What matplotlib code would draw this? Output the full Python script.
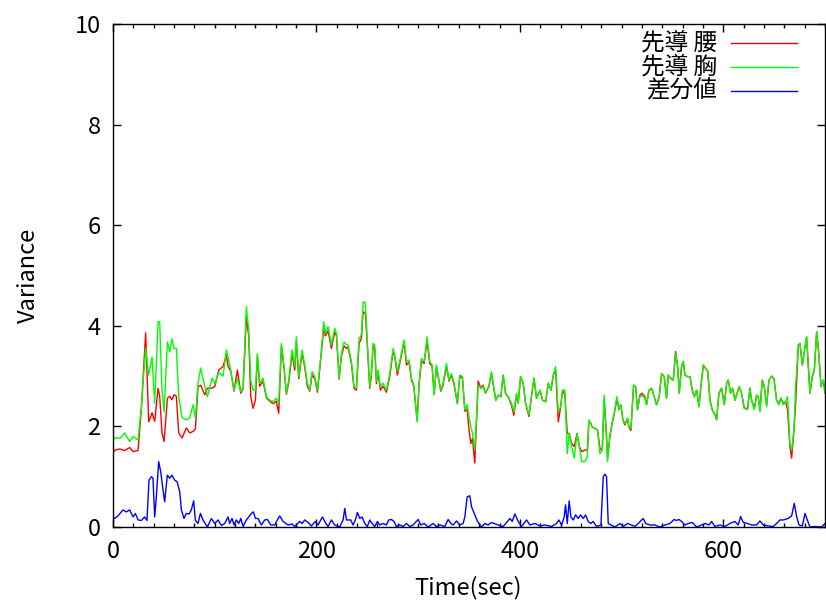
import numpy as np
from matplotlib import pyplot as plt

plt.rcParams['font.family'] = ['Noto Sans CJK JP', 'DejaVu Sans']

# time axis (sec) shared by the two lead-variance series
t_lead = [0, 2, 6.6, 11.5, 16.4, 19.7, 24.6, 27.9, 32.1, 35.1, 38.4, 41, 44.3, 45.9, 48.2,
		  50.2, 53.5, 55.8, 58, 60, 62.3, 64.6, 67.9, 72.1, 75.4, 78.7, 81, 83.6, 86.2, 90.2,
		  92.8, 97.4, 100, 104, 108.2, 111.5, 113.1, 115.7, 119, 122.3, 125.6, 127.9, 131.1,
		  133.4, 135.4, 137.7, 140, 142, 144.2, 147.5, 150.8, 154.1, 157.4, 160.6, 162.9,
		  165.6, 168.2, 170.5, 172.8, 176, 178.7, 180.3, 182.6, 185.9, 188.5, 191.1, 193.4,
		  195.7, 198.4, 201, 204.3, 207.2, 208.8, 211.5, 214.7, 218, 219.7, 222.3, 224.6,
		  227.2, 229.8, 231.1, 234.4, 237, 239.3, 241.9, 244.2, 245.9, 248.1, 250.1, 252.4,
		  254, 255.7, 257.3, 259, 260.6, 262.9, 265.5, 268.8, 272.1, 275.4, 277, 279.6, 282.9,
		  286.2, 288.5, 291.1, 293.4, 295.7, 299, 300.9, 303.2, 305.9, 308.8, 311.4, 313.7,
		  315.7, 318, 319.6, 322.3, 324.5, 327.8, 330.4, 332.7, 335.4, 338.6, 340.9, 343.6,
		  345.9, 348.2, 349.9, 351.8, 353.4, 355.7, 359, 361.6, 363.9, 366.2, 369.5, 372.1,
		  374.8, 376.4, 378.7, 381.3, 383.6, 385.9, 388.5, 391.8, 394.1, 396.7, 398.4, 400.7,
		  403.3, 405.6, 408.9, 411.6, 413.9, 416.4, 419.8, 422.3, 425.4, 428, 430.6, 432.9,
		  435.1, 437.8, 440.1, 442, 444.3, 446.6, 448.6, 450.9, 453.5, 456.2, 458.5, 460.8,
		  464, 466.4, 467.8, 469.8, 471.1, 473.8, 476.4, 478.7, 481, 482.9, 485.2, 486.2,
		  488.5, 490.8, 492.8, 495.4, 497.4, 499.3, 501.3, 503.3, 505.9, 507.2, 509.2, 511.8,
		  513.8, 515.7, 518, 520.3, 522.9, 524.6, 526.9, 529.5, 532.1, 534.4, 537, 539.3,
		  541.9, 544.2, 545.9, 548.5, 550.8, 553.1, 555.1, 556.7, 559, 560.7, 562.3, 564.9,
		  567.2, 569.5, 571.5, 573.8, 576.1, 578.1, 580.4, 582.7, 584.7, 586.9, 589.2, 591.8,
		  593.4, 595.7, 598.3, 601, 603.3, 604.9, 607.2, 609.1, 611.5, 613.7, 615.7, 618,
		  620.6, 623.9, 626.2, 627.8, 630.5, 632.8, 634.4, 636.1, 638.3, 640.3, 642.6, 644.9,
		  647.5, 649.8, 652.4, 654.7, 656.7, 659, 661.3, 663.2, 665.5, 667.2, 669.5, 671.1,
		  673.8, 675.4, 677.7, 679.7, 681.9, 683.6, 685.2, 687.5, 689.5, 691.8, 694.1, 696.1,
		  698.4, 700]

# 先導 胸 (chest)
chest = [1.70, 1.78, 1.76, 1.87, 1.70, 1.80, 1.73, 2.40, 3.56, 3.02, 3.38, 2.46, 4.08, 4.08, 2.70,
		 2.29, 3.68, 3.48, 3.74, 3.55, 3.55, 2.60, 2.17, 2.13, 2.17, 2.43, 2.17, 2.86, 3.16, 2.79,
		 2.59, 2.96, 2.85, 3.07, 3.00, 3.52, 3.39, 3.12, 2.72, 2.95, 2.69, 2.79, 4.38,
		 3.92, 2.92, 2.72, 2.72, 3.45, 2.86, 2.96, 2.59, 2.52, 2.49, 2.56, 2.46,
		 3.65, 3.19, 2.66, 2.92, 3.52, 3.19, 3.78, 2.99, 3.52, 3.22, 2.86, 2.72,
		 3.09, 2.99, 2.72, 3.39, 4.08, 3.85, 3.98, 3.62, 3.95, 3.85, 2.96, 3.45,
		 3.68, 3.62, 3.62, 3.29, 2.79, 2.76, 3.75, 3.82, 4.48, 4.45, 3.65, 2.79,
		 3.05, 3.65, 3.62, 2.89, 3.12, 2.79, 2.86, 2.72, 3.05, 3.55, 3.42, 3.09, 3.39,
		 3.72, 3.29, 3.32, 2.96, 2.82, 2.09, 2.86, 3.35, 3.29, 3.78, 3.29, 3.22,
		 2.62, 3.22, 3.02, 2.72, 2.86, 3.25, 2.92, 3.05, 2.86, 2.46, 3.02, 2.99,
		 2.33, 2.43, 2.20, 1.99, 1.86, 1.53, 2.82, 2.76, 2.79, 2.66, 2.79, 3.09,
		 2.72, 2.52, 2.62, 2.59, 3.02, 2.66, 2.59, 2.46, 2.29, 2.66, 2.46, 2.99,
		 2.86, 2.46, 2.23, 2.62, 2.96, 2.56, 2.72, 2.52, 2.49, 2.86, 2.72, 3.02,
		 3.19, 2.30, 2.39, 2.72, 2.72, 1.46, 1.86, 1.60, 1.37, 1.86, 1.60, 1.30,
		 1.30, 1.40, 2.13, 2.06, 1.99, 1.96, 1.93, 1.46, 1.53, 2.62, 1.80, 1.30,
		 1.80, 2.09, 2.26, 2.59, 2.33, 2.43, 2.13, 2.06, 2.16, 1.99, 1.96, 2.82,
		 2.79, 2.33, 2.59, 2.62, 2.56, 2.43, 2.72, 2.76, 2.59, 2.43, 2.59, 3.05,
		 2.99, 2.56, 3.02, 2.95, 2.92, 3.45, 3.19, 2.66, 3.19, 3.29, 3.02, 2.99,
		 2.99, 2.72, 2.59, 2.72, 2.39, 2.82, 3.22, 3.15, 3.10, 2.52, 2.33, 2.23,
		 2.13, 2.66, 2.76, 2.43, 2.86, 2.92, 2.66, 2.76, 2.52, 2.66, 2.79, 2.66,
		 2.36, 2.33, 2.76, 2.52, 2.33, 2.62, 2.59, 2.29, 2.92, 2.79, 2.39, 2.92,
		 3.00, 2.95, 2.52, 2.43, 2.56, 2.43, 2.49, 2.59, 1.66, 1.53, 1.93, 2.79,
		 3.62, 3.65, 3.22, 3.49, 3.78, 3.19, 2.66, 2.99, 3.12, 3.88, 3.39, 2.79,
		 2.92, 2.66]

# 先導 腰 (waist)
waist = [1.47, 1.53, 1.55, 1.52, 1.58, 1.50, 1.52, 2.35, 3.86, 2.09, 2.27, 2.10, 2.76, 2.60, 1.87,
		 1.70, 2.56, 2.60, 2.53, 2.63, 2.60, 1.87, 1.77, 1.97, 1.87, 1.90, 1.95, 2.79, 2.82, 2.63,
		 2.76, 2.76, 2.79, 3.12, 3.19, 3.42, 3.19, 3.10, 2.70, 3.12, 2.66, 2.76, 4.18,
		 3.80, 2.60, 2.36, 2.52, 3.40, 2.80, 2.90, 2.57, 2.50, 2.45, 2.50, 2.26,
		 3.60, 3.15, 2.64, 2.88, 3.45, 3.12, 3.70, 2.95, 3.45, 3.18, 2.80, 2.70,
		 3.02, 2.95, 2.68, 3.35, 3.95, 3.80, 3.90, 3.55, 3.88, 3.80, 2.94, 3.40,
		 3.60, 3.55, 3.58, 3.25, 2.75, 2.72, 3.65, 3.75, 4.28, 4.25, 3.60, 2.76,
		 3.00, 3.60, 3.55, 2.85, 3.08, 2.72, 2.80, 2.68, 3.00, 3.50, 3.38, 3.02, 3.35,
		 3.68, 3.22, 3.28, 2.92, 2.80, 2.12, 2.82, 3.30, 3.25, 3.70, 3.25, 3.20,
		 2.65, 3.18, 3.00, 2.70, 2.82, 3.20, 2.90, 3.02, 2.82, 2.45, 3.00, 2.95,
		 2.30, 2.35, 1.95, 1.66, 1.76, 1.27, 2.90, 2.76, 2.82, 2.66, 2.79, 3.05,
		 2.70, 2.52, 2.62, 2.59, 3.02, 2.66, 2.59, 2.42, 2.22, 2.62, 2.46, 2.99,
		 2.86, 2.46, 2.20, 2.62, 2.96, 2.56, 2.72, 2.52, 2.49, 2.86, 2.72, 3.02,
		 3.12, 2.09, 2.39, 2.72, 2.62, 1.86, 1.86, 1.66, 1.60, 1.86, 1.60, 1.50,
		 1.53, 1.53, 2.09, 2.06, 1.99, 1.96, 1.93, 1.56, 1.53, 2.52, 1.80, 1.36,
		 1.80, 2.06, 2.26, 2.55, 2.33, 2.43, 2.13, 2.03, 2.16, 1.99, 1.92, 2.82,
		 2.79, 2.33, 2.62, 2.66, 2.59, 2.43, 2.72, 2.76, 2.59, 2.43, 2.59, 3.05,
		 2.99, 2.56, 3.02, 2.95, 2.92, 3.49, 3.19, 2.66, 3.19, 3.29, 3.02, 2.99,
		 2.99, 2.72, 2.59, 2.72, 2.39, 2.82, 3.22, 3.15, 3.10, 2.52, 2.33, 2.23,
		 2.13, 2.66, 2.76, 2.43, 2.86, 2.92, 2.66, 2.76, 2.52, 2.66, 2.79, 2.66,
		 2.36, 2.36, 2.76, 2.52, 2.36, 2.62, 2.59, 2.33, 2.92, 2.79, 2.42, 2.92,
		 3.00, 2.95, 2.52, 2.46, 2.56, 2.46, 2.49, 2.33, 1.60, 1.37, 1.93, 2.46,
		 3.62, 3.65, 3.22, 3.49, 3.78, 3.19, 2.66, 2.99, 3.12, 3.88, 3.39, 2.79,
		 2.92, 2.66]

# 差分値 (difference)
t_diff = [0, 1.6, 4.9, 9.8, 13.1, 16.4, 19.7, 22, 24.6, 27.9, 31.1, 33.4, 35.4, 37.7, 39.3, 41,
		  42.6, 44.9, 46.9, 49.2, 50.8, 53.4, 55.7, 58, 60.7, 63, 65.6, 67.2, 69.8, 72.1, 74.8,
		  77, 79.3, 81, 83.6, 85.9, 88.5, 92.8, 96.7, 100, 103.3, 106.6, 109.8, 113.1, 114.7,
		  117, 119, 121.3, 123.6, 125.6, 127.9, 131.1, 133.4, 136.1, 138, 140, 142.6, 145.9,
		  149.2, 151.8, 155.1, 159, 162.3, 163.9, 167.2, 172.1, 176, 178.7, 183.6, 185.9,
		  188.5, 191.8, 195, 199, 201.6, 205.9, 209.2, 211.5, 214.7, 218, 222.9, 226.2, 227.9,
		  229.5, 233.7, 236, 238.3, 240.3, 242.6, 244.9, 247.5, 250.1, 252.4, 254.7, 257.3,
		  260, 262.2, 265.5, 268.8, 271.1, 273.7, 276.3, 278.6, 281.9, 285.2, 288.5, 291.8,
		  295, 300, 302.6, 305.9, 309.8, 314.7, 318, 321.3, 326.2, 329.5, 332.1, 334.4, 337.7,
		  341, 344.2, 345.9, 348.2, 350.8, 352.5, 355.8, 358.4, 362.3, 365.6, 368.9, 372.1,
		  378.7, 383.6, 390.2, 392.5, 395.1, 398.4, 401.7, 406.6, 409.9, 414.8, 419.7, 424.6,
		  431.2, 436.1, 438.4, 441, 443.6, 444.9, 446.6, 448.5, 450.2, 452.5, 454.8, 457.4,
		  459.7, 462.3, 464.6, 467.2, 469.8, 472.1, 475.4, 479.7, 482, 483.6, 485.2, 486.9,
		  489.5, 493.4, 498.4, 501.6, 505.9, 509.8, 513.1, 516.4, 519.7, 521.3, 523.6, 527.9,
		  532.8, 537.7, 542.6, 547.5, 551.8, 554.1, 556.4, 559, 562.3, 565.6, 569.5, 573.8,
		  578.7, 582, 585.9, 588.5, 591.8, 596.7, 601.6, 606.5, 611.4, 614.7, 617, 619.6,
		  623.9, 627.8, 632.7, 636, 639.3, 644.2, 649.1, 652.4, 655.7, 659, 663.9, 667.2,
		  669.8, 672.1, 674.4, 677.7, 680.3, 682.6, 685.2, 690.1, 696.7, 700]
diff = [0.20, 0.17, 0.22, 0.34, 0.30, 0.34, 0.20, 0.27, 0.14, 0.13, 0.20, 0.13, 0.93, 1.00, 0.97, 0.20,
		0.60, 1.30, 1.10, 0.73, 0.50, 1.03, 0.97, 1.03, 0.93, 0.90, 0.70, 0.34, 0.17, 0.27, 0.26,
		0.34, 0.52, 0.13, 0.07, 0.27, 0.14, 0.00, 0.17, 0.07, 0.14, 0.03, 0.07, 0.20, 0.07,
		0.17, 0.04, 0.14, 0.07, 0.17, 0.01, 0.14, 0.20, 0.27, 0.30, 0.17, 0.17, 0.04,
		0.14, 0.15, 0.04, 0.04, 0.17, 0.22, 0.11, 0.04, 0.06, 0.01, 0.11, 0.07,
		0.14, 0.09, 0.02, 0.11, 0.04, 0.20, 0.07, 0.01, 0.14, 0.04, 0.00, 0.14, 0.37,
		0.14, 0.14, 0.04, 0.14, 0.29, 0.17, 0.20, 0.07, 0.01, 0.14, 0.07, 0.01,
		0.11, 0.04, 0.07, 0.04, 0.14, 0.15, 0.11, 0.01, 0.04, 0.01, 0.07, 0.01,
		0.04, 0.15, 0.04, 0.07, 0.00, 0.07, 0.01, 0.04, 0.01, 0.15, 0.07, 0.04, 0.12,
		0.04, 0.07, 0.20, 0.60, 0.62, 0.40, 0.24, 0.11, 0.00, 0.07, 0.04, 0.09,
		0.04, 0.01, 0.17, 0.11, 0.26, 0.11, 0.01, 0.14, 0.04, 0.07, 0.02, 0.04,
		0.01, 0.07, 0.14, 0.04, 0.20, 0.44, 0.07, 0.52, 0.20, 0.14, 0.24, 0.17,
		0.24, 0.17, 0.24, 0.11, 0.07, 0.11, 0.01, 0.04, 1.00, 1.05, 1.00, 0.07,
		0.04, 0.00, 0.07, 0.01, 0.07, 0.04, 0.01, 0.07, 0.14, 0.17, 0.07, 0.04,
		0.04, 0.00, 0.04, 0.07, 0.15, 0.13, 0.15, 0.11, 0.04, 0.07, 0.09, 0.00,
		0.04, 0.07, 0.04, 0.11, 0.01, 0.04, 0.01, 0.07, 0.11, 0.04, 0.21, 0.09,
		0.07, 0.04, 0.04, 0.12, 0.04, 0.02, 0.01, 0.07, 0.14, 0.14, 0.17, 0.22,
		0.47, 0.21, 0.04, 0.02, 0.27, 0.14, 0.00, 0.01, 0.00, 0.07]

labels = ['先導 腰', '先導 胸', '差分値']
colors = ['#ff0000', '#00ff00', '#0000ff']

fig = plt.figure(figsize=(8.26, 6.03), dpi=100)
ax = fig.add_axes([113/826, 1 - 527/603, 712/826, 503/603])

ax.plot(t_lead, waist, color=colors[0], lw=1.0)
ax.plot(t_lead, chest, color=colors[1], lw=1.0)
ax.plot(t_diff, diff, color=colors[2], lw=1.0)

ax.set_xlim(0, 700)
ax.set_ylim(0, 10)
ax.set_xticks(np.arange(0, 701, 200))
ax.set_xticks(np.arange(0, 701, 20), minor=True)
ax.set_yticks(np.arange(0, 11, 2))
ax.tick_params(which='both', direction='in', top=True, right=True, labelsize=17, width=1.0)
ax.tick_params(which='major', length=6, pad=9)
ax.tick_params(which='minor', length=3)
for s in ax.spines.values():
	s.set_linewidth(1.0)
ax.set_xlabel('Time(sec)', fontsize=17, va='center')
ax.xaxis.set_label_coords(0.498, -0.121)
ax.set_ylabel('Variance', fontsize=17, va='center')
ax.yaxis.set_label_coords(-0.119, 0.5)

# key in the upper right, text right-aligned left of the sample line
for i in range(3):
	yk = 0.962 - i * 0.0477
	ax.text(0.848, yk, labels[i], transform=ax.transAxes, ha='right', va='center', fontsize=17)
	ax.plot([0.868, 0.96], [yk, yk], color=colors[i], lw=1.0, transform=ax.transAxes)

fig.savefig('out.png')
